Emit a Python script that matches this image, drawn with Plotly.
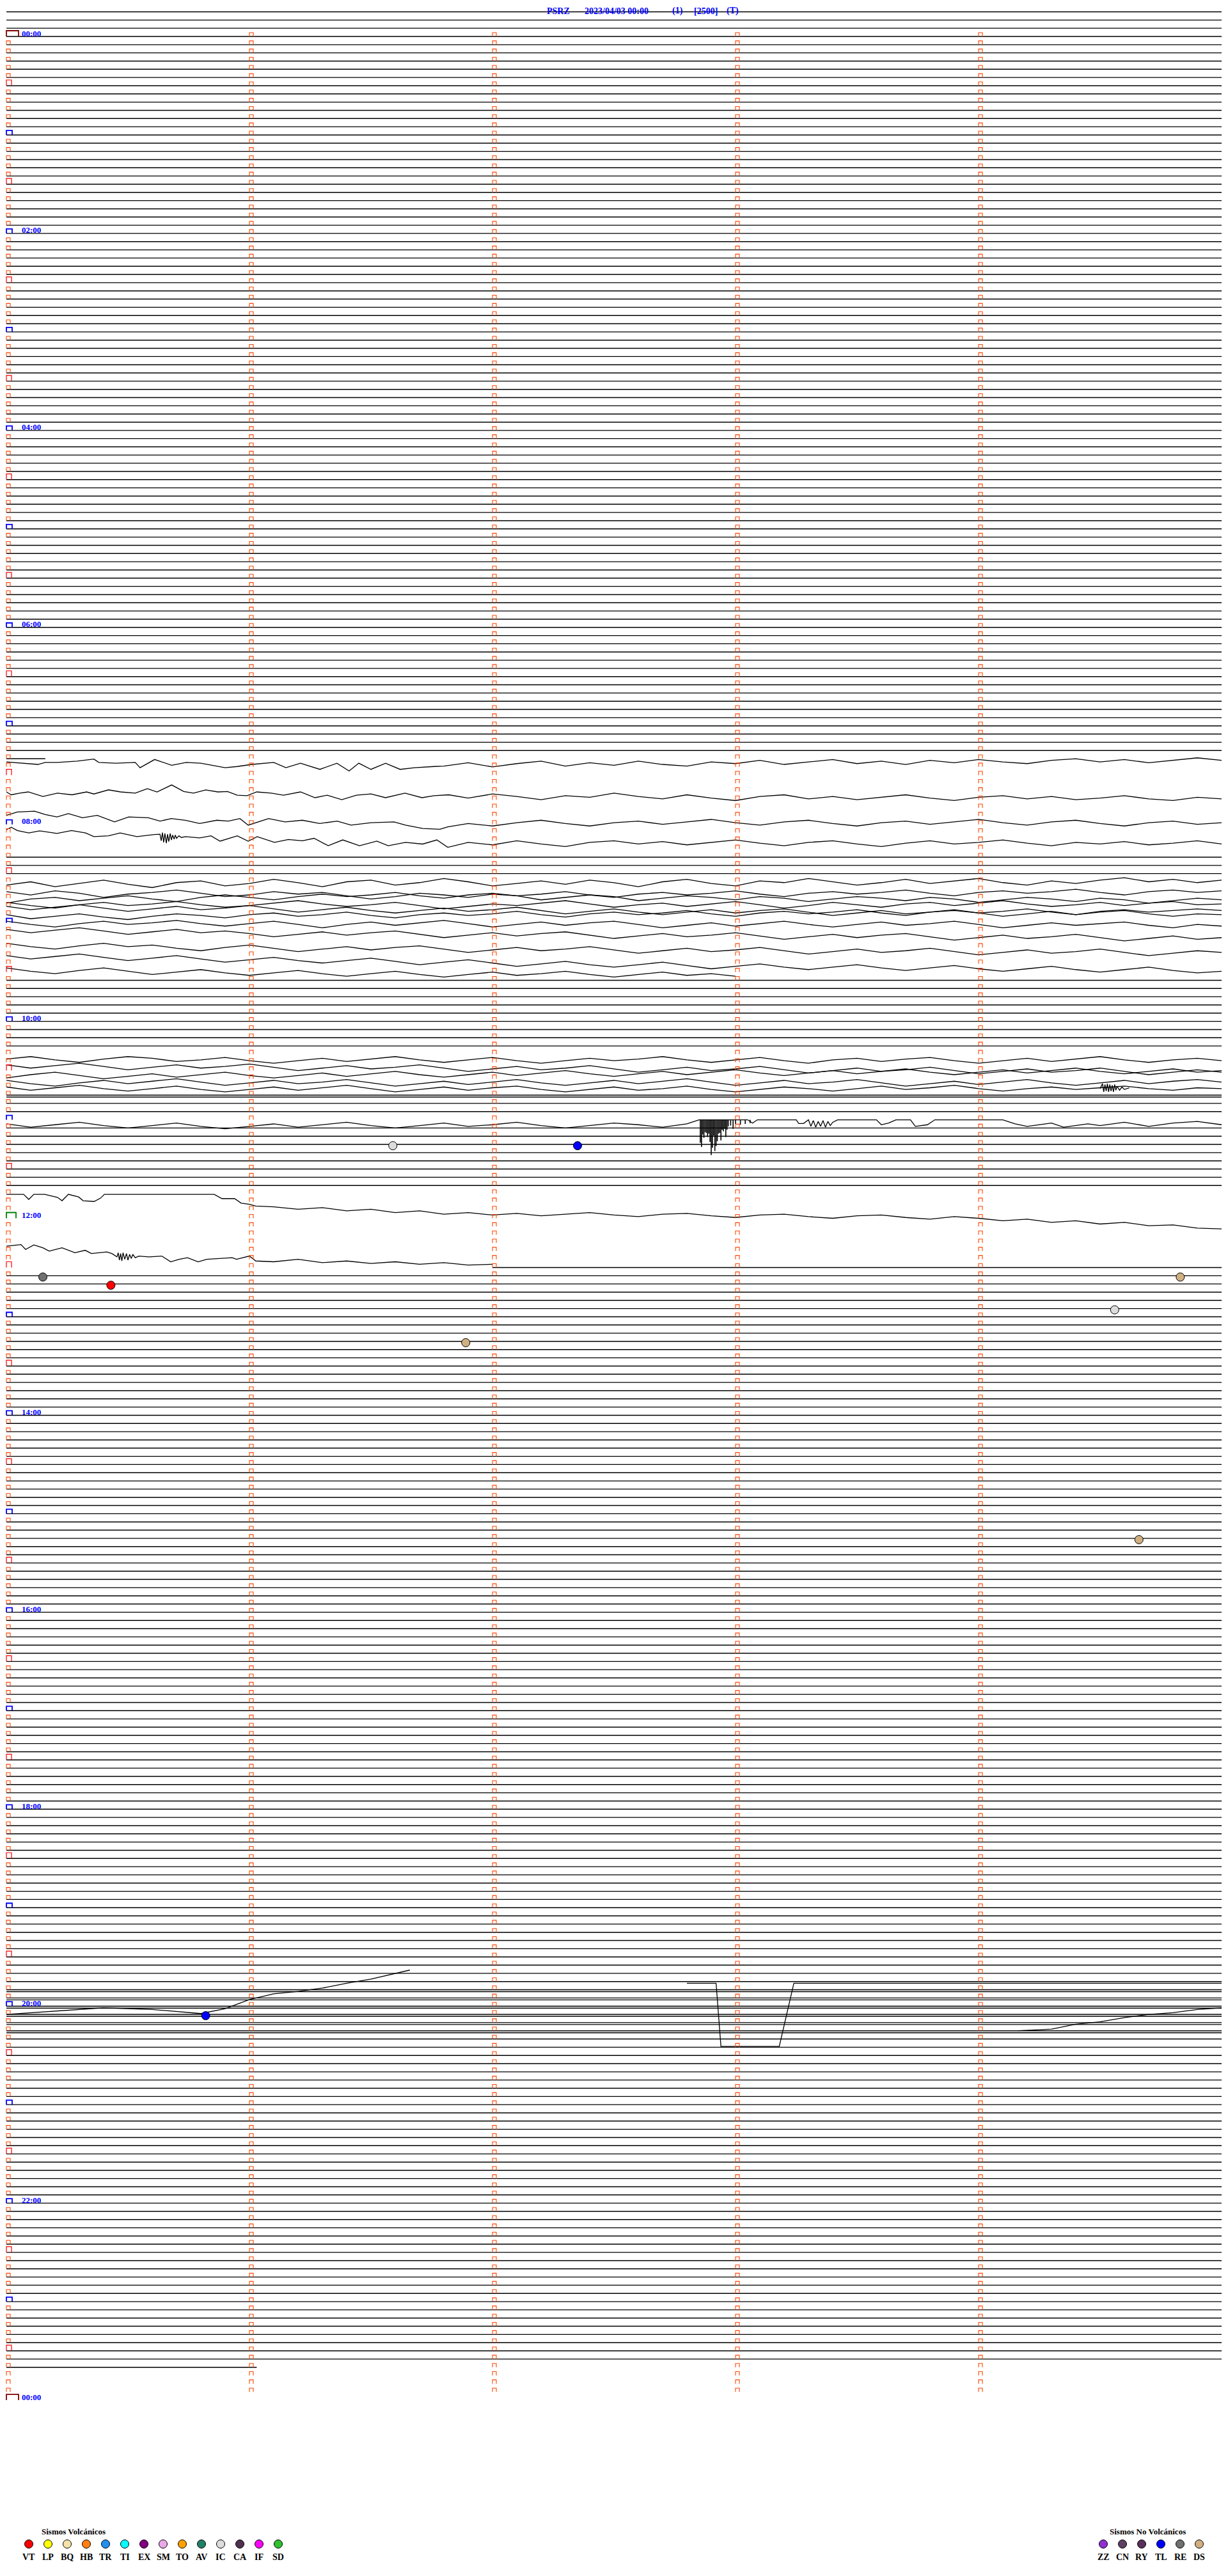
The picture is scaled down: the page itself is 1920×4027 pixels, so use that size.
import plotly.graph_objects as go

# ---------------- data ----------------
TITLE_PARTS = ["PSRZ", "2023/04/03 00:00", "(1)", "[2500]", "(T)"]

MIN_PER_ROW = 5          # each helicorder row = 5 minutes
FIRST_ROW = -4           # rows drawn before 00:00
LAST_ROW = 284           # last row with data
LAST_ROW_END = 1.03      # minute where last row ends
TOTAL_ROWS = 288

HOUR_LABELS = ["00:00", "02:00", "04:00", "06:00", "08:00", "10:00",
               "12:00", "14:00", "16:00", "18:00", "20:00", "22:00", "00:00"]

# rows whose trace is drifting (no flat baseline drawn)
WAVY_ROWS = [88, 89, 90, 91, 92, 93, 94, 95, 96, 97, 98, 99,
             103, 104, 105, 106, 107, 108, 109, 110, 111, 112, 113, 114,
             124, 125, 126, 127, 128, 132,
             141, 142, 143, 144, 145, 146, 147, 148, 149, 150]
# partial flat baselines: (row, start minute, end minute)
PARTIAL_ROWS = [(88, 0.0, 0.16), (150, 2.0, 5.0)]
# rows showing a doubled baseline
DOUBLE_ROWS = [129, 238, 239, 240, 241, 242, 243]

GRID = [0.0, 0.1, 0.2, 0.3, 0.4, 0.5, 0.6, 0.7, 0.8, 0.9,
        1.0, 1.1, 1.2, 1.3, 1.4, 1.5, 1.6, 1.7, 1.8, 1.9,
        2.0, 2.1, 2.2, 2.3, 2.4, 2.5, 2.6, 2.7, 2.8, 2.9,
        3.0, 3.1, 3.2, 3.3, 3.4, 3.5, 3.6, 3.7, 3.8, 3.9,
        4.0, 4.1, 4.2, 4.3, 4.4, 4.5, 4.6, 4.7, 4.8, 4.9, 5.0]
N = None

# ---- 07:20-07:50 traces, (minute, row) ----
t_0720 = [(0, 88.4), (0.05, 88.5), (0.13, 88.7), (0.16, 88.45), (0.21, 88.45), (0.29, 88.3), (0.36, 88.05),
          (0.38, 88.45), (0.45, 88.55), (0.53, 88.45), (0.55, 89.1), (0.61, 88.1), (0.68, 88.8), (0.74, 88.45),
          (0.8, 88.55), (0.9, 89.1), (0.95, 88.95), (1.01, 88.7), (1.1, 88.45), (1.15, 89.1), (1.21, 88.55),
          (1.29, 89.3), (1.36, 88.55), (1.41, 89.5), (1.45, 88.55), (1.5, 89.3), (1.56, 88.55), (1.62, 89.3),
          (1.68, 89.1), (1.76, 88.95), (1.8, 88.9), (1.9, 88.5), (2.0, 89.0), (2.1, 88.6), (2.2, 88.3), (2.3, 88.9),
          (2.4, 88.5), (2.5, 88.8), (2.6, 88.3), (2.7, 88.7), (2.8, 88.9), (2.9, 88.4), (3.0, 88.6), (3.1, 88.2),
          (3.2, 88.7), (3.3, 88.4), (3.4, 88.1), (3.5, 88.6), (3.6, 88.3), (3.7, 88.7), (3.8, 88.2), (3.9, 88.5),
          (4.0, 88.1), (4.1, 88.4), (4.2, 88.6), (4.3, 88.2), (4.4, 88.0), (4.5, 88.4), (4.6, 88.1), (4.7, 88.5),
          (4.8, 88.2), (4.9, 87.9), (5.0, 88.2)]
t_0735 = [(0, 92.05), (0.02, 92.4), (0.055, 92.2), (0.09, 92.05), (0.15, 92.6), (0.21, 92.2), (0.27, 92.4),
          (0.33, 92.05), (0.36, 92.3), (0.42, 91.8), (0.47, 92.05), (0.53, 92.2), (0.58, 91.65), (0.62, 92.05),
          (0.68, 91.2), (0.73, 92.0), (0.77, 92.2), (0.82, 91.8), (0.87, 92.05), (0.91, 92.0), (0.95, 92.45),
          (0.99, 92.5), (1.03, 92.05), (1.09, 92.2), (1.14, 92.45), (1.21, 92.05), (1.27, 92.75), (1.32, 92.45),
          (1.38, 93.0), (1.44, 92.45), (1.5, 92.3), (1.56, 92.75), (1.64, 92.2), (1.71, 92.75), (1.76, 92.5),
          (1.82, 92.4), (1.9, 92.8), (2.0, 92.3), (2.1, 92.6), (2.2, 93.0), (2.3, 92.5), (2.4, 92.7), (2.5, 92.2),
          (2.6, 92.6), (2.7, 92.9), (2.8, 92.4), (2.9, 92.8), (3.0, 93.1), (3.1, 92.6), (3.2, 92.4), (3.3, 92.9),
          (3.4, 92.6), (3.5, 93.0), (3.6, 92.7), (3.7, 92.4), (3.8, 92.8), (3.9, 93.1), (4.0, 92.7), (4.1, 92.5),
          (4.2, 92.9), (4.3, 92.6), (4.4, 93.0), (4.5, 92.8), (4.6, 92.5), (4.7, 92.9), (4.8, 93.1), (4.9, 92.7),
          (5.0, 92.9)]
t_0750 = [(0, 94.9), (0.045, 94.5), (0.116, 94.4), (0.16, 94.8), (0.208, 95.1), (0.255, 94.7), (0.313, 95.2),
          (0.374, 94.9), (0.445, 95.7), (0.503, 95.1), (0.584, 95.2), (0.632, 95.6), (0.679, 95.3), (0.737, 95.5),
          (0.795, 95.9), (0.866, 95.5), (0.913, 95.6), (0.961, 95.3), (0.995, 96.1), (1.079, 95.3), (1.147, 95.7),
          (1.218, 95.5), (1.289, 95.9), (1.361, 95.6), (1.418, 96.1), (1.5, 95.8), (1.595, 95.7), (1.642, 96.1),
          (1.713, 96.5), (1.784, 96.6), (1.816, 96.3), (1.9, 95.9), (2.0, 96.2), (2.1, 95.8), (2.2, 95.5),
          (2.3, 95.9), (2.4, 96.2), (2.5, 95.8), (2.6, 95.6), (2.7, 96.0), (2.8, 95.7), (2.9, 95.4), (3.0, 95.8),
          (3.1, 96.1), (3.2, 95.7), (3.3, 95.5), (3.4, 95.9), (3.5, 96.2), (3.6, 95.8), (3.7, 95.6), (3.8, 96.0),
          (3.9, 95.7), (4.0, 95.4), (4.1, 95.8), (4.2, 96.1), (4.3, 95.7), (4.4, 95.5), (4.5, 95.9), (4.6, 96.2),
          (4.7, 95.8), (4.8, 95.6), (4.9, 96.0), (5.0, 95.8)]
t_0805 = [(0, 96.65), (0.02, 96.35), (0.045, 96.75), (0.092, 97.05), (0.137, 96.8), (0.208, 97.1), (0.268, 96.75),
          (0.326, 97.05), (0.36, 97.5), (0.42, 97.4), (0.468, 97.05), (0.537, 97.5), (0.608, 97.25),
          (0.632, 97.2), (0.637, 98.0), (0.642, 97.0), (0.647, 98.2), (0.652, 97.1), (0.658, 98.3), (0.663, 97.2),
          (0.668, 98.1), (0.674, 97.1), (0.679, 97.9), (0.684, 97.3), (0.69, 97.8), (0.695, 97.3), (0.7, 97.7),
          (0.71, 97.4), (0.72, 97.6), (0.737, 97.5), (0.795, 97.65), (0.842, 97.4), (0.879, 98.05), (0.95, 97.4),
          (0.995, 98.05), (1.032, 97.5), (1.103, 98.2), (1.16, 97.85), (1.218, 98.0), (1.266, 97.7),
          (1.324, 98.6), (1.384, 97.9), (1.453, 98.6), (1.524, 98.05), (1.571, 98.6), (1.642, 98.2),
          (1.713, 98.4), (1.771, 97.9), (1.816, 98.8), (1.9, 98.2), (2.0, 98.5), (2.1, 98.0), (2.2, 98.4),
          (2.3, 98.7), (2.4, 98.2), (2.5, 98.0), (2.6, 98.4), (2.7, 98.1), (2.8, 98.5), (2.9, 98.2), (3.0, 97.9),
          (3.1, 98.3), (3.2, 98.6), (3.3, 98.2), (3.4, 98.0), (3.5, 98.4), (3.6, 98.7), (3.7, 98.3), (3.8, 98.0),
          (3.9, 98.4), (4.0, 98.2), (4.1, 97.9), (4.2, 98.3), (4.3, 98.6), (4.4, 98.2), (4.5, 98.4), (4.6, 98.1),
          (4.7, 98.5), (4.8, 98.3), (4.9, 98.0), (5.0, 98.4)]

# ---- 08:30-09:00 tangle, values on GRID (row) ----
g1 = [103.4, 103.0, 103.6, 103.2, 102.8, 103.3, 103.7, 103.1, 102.9, 103.5, 103.2, 102.7, 103.1, 103.6, 103.0, 102.8, 103.4,
      103.1, 102.6, 103.0, 103.5, 103.2, 102.9, 103.3, 102.8, 103.1, 103.6, 103.0, 102.7, 103.2, 103.5, 102.9, 103.1, 102.6,
      103.0, 103.4, 103.1, 102.7, 103.2, 102.9, 102.6, 103.1, 103.4, 102.9, 103.2, 102.8, 102.5, 103.0, 102.7, 103.1, 102.8]
g2 = [104.2, 104.6, 104.1, 104.4, 104.9, 104.5, 104.3, 104.0, 104.4, 104.8, 104.6, 104.2, 104.5, 104.3, 104.7, 105.1, 104.8,
      104.4, 104.6, 104.9, 104.5, 104.7, 105.2, 104.9, 104.6, 104.8, 105.3, 105.0, 104.7, 104.9, 105.2, 104.8, 105.0, 105.4,
      105.1, 104.8, 105.0, 105.3, 104.9, 105.1, 105.5, 105.2, 104.9, 105.1, 105.4, 105.0, 105.2, 105.6, 105.3, 105.0, 105.2]
g3 = [105.6, 105.1, 104.9, 105.3, 105.0, 104.7, 105.1, 105.4, 104.9, 104.6, 104.9, 105.2, 104.8, 104.5, 104.8, 104.6, 104.3,
      104.7, 105.0, 104.6, 104.4, 104.7, 104.5, 104.2, 104.6, 104.9, 104.5, 104.3, 104.6, 104.4, 104.1, 104.5, 104.8, 104.4,
      104.2, 104.5, 104.3, 104.0, 104.4, 104.7, 104.3, 104.1, 104.4, 104.2, 103.9, 104.3, 104.6, 104.2, 104.0, 104.3, 104.1]
g4 = [105.5, 105.9, 106.2, 105.8, 105.5, 105.9, 105.7, 105.4, 105.8, 106.1, 105.9, 105.6, 105.3, 105.7, 106.0, 105.8, 105.5,
      105.9, 106.3, 106.0, 105.7, 105.9, 105.6, 105.3, 105.7, 106.1, 105.8, 105.6, 106.0, 105.7, 105.4, 105.8, 106.2, 105.9,
      105.5, 105.8, 106.1, 105.7, 105.5, 105.9, 105.6, 105.3, 105.7, 106.0, 105.8, 105.5, 105.9, 105.6, 105.4, 105.8, 105.7]
g5 = [106.0, 106.4, 106.1, 105.8, 106.2, 106.6, 106.3, 106.0, 106.4, 106.2, 105.9, 106.3, 106.7, 106.4, 106.1, 106.5, 106.8,
      106.5, 106.2, 106.6, 106.4, 106.1, 106.5, 106.9, 106.6, 106.3, 106.7, 107.0, 106.7, 106.4, 106.8, 106.5, 106.3, 106.7,
      107.1, 106.8, 106.5, 106.9, 106.7, 106.4, 106.8, 107.2, 106.9, 106.6, 107.0, 106.7, 106.5, 106.9, 107.2, 106.9, 107.0]
g6 = [107.0, 107.5, 107.2, 106.9, 107.3, 107.6, 107.2, 106.9, 107.1, 107.4, 107.0, 106.8, 107.2, 107.0, 106.7, 107.1, 107.4,
      107.0, 106.8, 107.1, 106.9, 106.6, 107.0, 107.3, 106.9, 106.7, 107.0, 106.8, 106.5, 106.9, 107.2, 106.8, 106.6, 106.9,
      106.7, 106.4, 106.8, 107.1, 106.7, 106.5, 106.8, 106.6, 106.3, 106.7, 107.0, 106.6, 106.4, 106.7, 106.5, 106.3, 106.5]
g7 = [107.8, 108.2, 108.5, 108.1, 107.8, 108.2, 108.0, 107.7, 108.1, 108.4, 108.1, 107.8, 108.2, 108.6, 108.2, 107.9, 108.3,
      108.0, 107.7, 108.1, 108.5, 108.2, 107.9, 108.3, 108.0, 107.8, 108.2, 108.6, 108.3, 108.0, 108.4, 108.1, 107.8, 108.2,
      108.5, 108.2, 107.9, 108.3, 108.1, 107.8, 108.2, 108.6, 108.3, 108.0, 108.3, 108.1, 107.9, 108.3, 108.6, 108.2, 108.4]
g8 = [108.8, 109.2, 108.9, 108.6, 109.0, 109.4, 109.1, 108.8, 109.2, 109.0, 109.3, 109.7, 109.4, 109.1, 109.5, 109.2, 109.0,
      109.4, 109.8, 109.5, 109.2, 109.6, 109.3, 109.1, 109.5, 109.9, 109.6, 109.3, 109.7, 109.5, 109.2, 109.6, 110.0, 109.7,
      109.4, 109.8, 109.5, 109.3, 109.7, 110.1, 109.8, 109.5, 109.9, 109.7, 109.4, 109.8, 110.2, 109.9, 109.6, 110.0, 109.8]
g9 = [110.5, 110.9, 111.2, 110.8, 110.5, 110.9, 110.7, 111.1, 111.4, 111.0, 110.7, 111.1, 111.5, 111.2, 110.9, 111.3, 111.0,
      110.8, 111.2, 111.6, 111.3, 111.0, 111.4, 111.2, 110.9, 111.3, 111.7, 111.4, 111.1, 111.5, 111.3, 111.0, 111.4, 111.8,
      111.5, 111.2, 111.6, 111.4, 111.1, 111.5, 111.9, 111.6, 111.3, 111.7, 111.5, 111.2, 111.6, 112.0, 111.7, 111.4, 111.6]
g10 = [112.0, 112.4, 112.1, 111.8, 112.2, 112.6, 112.3, 112.0, 112.4, 112.8, 112.5, 112.2, 112.6, 112.9, 112.6, 112.3, 112.7,
       113.1, 112.8, 112.5, 112.9, 113.3, 113.0, 112.7, 113.1, 113.4, 113.1, 112.8, 113.2, 113.6, 113.3, 113.0, 113.4, 113.7,
       113.4, 113.1, 113.5, 113.8, 113.5, 113.2, 113.6, 113.9, 113.6, 113.3, 113.7, 114.0, 113.7, 113.4, 113.8, 114.1, 113.9]
g11 = [113.5, 113.9, 114.2, 113.8, 113.5, 113.9, 114.3, 114.0, 113.7, 114.1, 114.4, 114.1, 113.8, 114.2, 114.5, 114.2, 113.9,
       114.3, 114.6, 114.3, 114.0, 114.4, 114.2, 113.9, 114.3, 114.6, 114.3, 114.0, 114.4, 114.2, 114.5, N, N, N,
       N, N, N, N, N, N, N, N, N, N, N, N, N, N, N, N, N]

# ---- 10:20-10:45 tangle, values on GRID ----
h1 = [124.6, 124.3, 124.7, 125.0, 124.6, 124.3, 124.5, 124.9, 124.7, 124.4, 124.8, 125.1, 124.8, 124.5, 124.9, 124.6, 124.3,
      124.7, 125.0, 124.7, 124.4, 124.8, 125.1, 124.8, 124.5, 124.8, 124.6, 124.3, 124.7, 125.0, 124.7, 124.4, 124.8, 125.1,
      124.7, 124.5, 124.9, 124.6, 124.4, 124.8, 125.1, 124.8, 124.5, 124.9, 124.6, 124.3, 124.7, 125.0, 124.7, 124.5, 124.8]
h2 = [125.3, 125.7, 125.4, 125.1, 125.5, 125.9, 125.6, 125.3, 125.7, 125.5, 125.2, 125.6, 126.0, 125.7, 125.4, 125.8, 125.6,
      125.3, 125.7, 126.1, 125.8, 125.5, 125.9, 125.7, 125.4, 125.8, 126.2, 125.9, 125.6, 126.0, 125.8, 125.5, 125.9, 126.3,
      126.0, 125.7, 126.1, 125.9, 125.6, 126.0, 126.4, 126.1, 125.8, 126.2, 126.0, 125.7, 126.1, 126.5, 126.2, 125.9, 126.2]
h3 = [126.9, 126.5, 126.2, 126.6, 127.0, 126.7, 126.4, 126.8, 126.5, 126.2, 126.6, 126.9, 126.6, 126.3, 126.7, 126.4, 126.1,
      126.5, 126.8, 126.5, 126.2, 126.6, 126.3, 126.0, 126.4, 126.7, 126.4, 126.1, 126.5, 126.2, 125.9, 126.3, 126.6, 126.3,
      126.0, 126.4, 126.1, 125.8, 126.2, 126.5, 126.2, 125.9, 126.3, 126.0, 125.7, 126.1, 126.4, 126.1, 125.8, 126.2, 126.0]
h4 = [127.2, 127.6, 127.9, 127.5, 127.2, 127.6, 127.3, 127.0, 127.4, 127.8, 127.5, 127.2, 127.6, 127.4, 127.1, 127.5, 127.9,
      127.6, 127.3, 127.7, 127.4, 127.1, 127.5, 127.8, 127.5, 127.2, 127.6, 127.3, 127.0, 127.4, 127.8, 127.5, 127.2, 127.6,
      127.4, 127.1, 127.5, 127.9, 127.6, 127.3, 127.7, 127.4, 127.1, 127.5, 127.8, 127.5, 127.2, 127.6, 127.3, 127.1, 127.4]
h5 = [128.0, 128.4, 128.1, 127.8, 128.2, 128.5, 128.2, 127.9, 128.3, 128.6, 128.3, 128.0, 128.4, 128.1, 127.8, 128.2, 128.6,
      128.3, 128.0, 128.4, 128.1, 127.9, 128.3, 128.6, 128.3, 128.0, 128.4, 128.2, 127.9, 128.3, 128.6, 128.3, 128.0, 128.2,
      128.5, 128.2, 127.9, 128.3, 128.1, 127.8, 128.2, 128.5, 128.2, 128.0, 128.3, 128.1, 127.9, 128.2, 128.4, 128.1, 128.2]
burst_1040 = [(4.50, 128.2), (4.51, 127.6), (4.515, 128.6), (4.52, 127.7), (4.525, 128.5), (4.53, 127.6), (4.535, 128.6),
              (4.54, 127.7), (4.545, 128.5), (4.55, 127.8), (4.555, 128.6), (4.56, 127.7), (4.565, 128.4), (4.57, 127.9),
              (4.58, 128.4), (4.59, 128.0), (4.60, 128.3), (4.62, 128.1)]

# ---- 11:00 trace ----
t_1100 = [(0.0, 132.5), (0.1, 132.9), (0.2, 132.6), (0.3, 132.3), (0.4, 132.7), (0.5, 133.0), (0.6, 132.7), (0.7, 132.4),
          (0.8, 132.8), (0.9, 133.1), (1.0, 132.8), (1.1, 132.5), (1.2, 132.9), (1.3, 132.6), (1.4, 132.3), (1.5, 132.7),
          (1.6, 133.0), (1.7, 132.7), (1.8, 132.4), (1.9, 132.8), (2.0, 132.6), (2.1, 132.3), (2.2, 132.7), (2.3, 133.0),
          (2.4, 132.7), (2.5, 132.4), (2.6, 132.6), (2.7, 132.9), (2.8, 132.5), (2.85, 132.0), (3.05, 132.0),
          (3.07, 132.4), (3.09, 132.0), (3.25, 132.0), (3.26, 132.45), (3.28, 132.45), (3.3, 132.0), (3.31, 132.8),
          (3.32, 132.1), (3.33, 132.9), (3.34, 132.2), (3.35, 132.8), (3.36, 132.1), (3.37, 132.9), (3.38, 132.2),
          (3.39, 132.7), (3.4, 132.3), (3.42, 132.0), (3.58, 132.0), (3.6, 132.6), (3.63, 132.4), (3.66, 132.0),
          (3.72, 132.0), (3.74, 132.8), (3.79, 132.6), (3.82, 132.0), (4.1, 132.0), (4.15, 132.5), (4.2, 132.8),
          (4.3, 132.4), (4.35, 132.9), (4.45, 132.5), (4.5, 132.7), (4.6, 132.3), (4.7, 132.8), (4.8, 132.4),
          (4.9, 132.2), (5.0, 132.6)]
spike_min = [2.855, 2.86, 2.865, 2.87, 2.875, 2.88, 2.885, 2.89, 2.895, 2.90, 2.905, 2.91, 2.915, 2.92, 2.925,
             2.93, 2.935, 2.94, 2.945, 2.95, 2.955, 2.96, 2.965, 2.97, 2.98, 2.99, 3.0, 3.02, 3.04, 3.06]
spike_row = [134.8, 135.3, 133.8, 134.2, 133.5, 133.6, 134.1, 133.7, 134.7, 136.3, 135.4, 133.9, 135.8, 135.2, 134.6,
             133.7, 133.6, 134.5, 133.2, 133.4, 133.1, 134.1, 133.2, 132.8, 132.7, 133.1, 132.5, 132.6, 132.5, 132.4]

# ---- 11:45 and 12:15 traces ----
t_1145 = [(0, 141.08), (0.071, 141.08), (0.092, 141.7), (0.113, 141.08), (0.158, 141.08), (0.192, 141.3), (0.21, 141.45),
          (0.229, 141.86), (0.255, 141.08), (0.297, 141.4), (0.316, 141.86), (0.361, 141.95), (0.387, 141.55),
          (0.403, 141.08), (0.855, 141.08), (0.887, 141.6), (0.939, 141.6), (0.966, 142.15), (1.0, 142.3),
          (1.026, 142.5), (1.1, 142.6), (1.2, 142.9), (1.3, 142.7), (1.4, 143.1), (1.5, 142.9), (1.6, 143.3),
          (1.7, 143.1), (1.8, 143.5), (1.9, 143.3), (2.0, 143.6), (2.1, 143.4), (2.2, 143.7), (2.3, 143.5),
          (2.4, 143.3), (2.5, 143.6), (2.6, 143.8), (2.7, 143.5), (2.8, 143.4), (2.9, 143.7), (3.0, 143.9),
          (3.1, 143.6), (3.2, 143.5), (3.3, 143.8), (3.4, 144.0), (3.5, 143.7), (3.6, 143.6), (3.7, 143.9),
          (3.8, 144.1), (3.9, 143.8), (4.0, 144.0), (4.1, 144.3), (4.2, 144.1), (4.3, 144.5), (4.4, 144.3),
          (4.5, 144.7), (4.6, 144.5), (4.7, 144.9), (4.8, 144.8), (4.9, 145.2), (5.0, 145.3)]
t_1215 = [(0, 147.4), (0.06, 147.2), (0.079, 147.8), (0.113, 147.25), (0.15, 147.6), (0.176, 148.0), (0.229, 147.6),
          (0.263, 148.0), (0.282, 148.2), (0.324, 147.9), (0.35, 148.3), (0.413, 148.1), (0.434, 148.3),
          (0.455, 148.7), (0.46, 148.2), (0.465, 149.1), (0.47, 148.3), (0.475, 149.2), (0.48, 148.2), (0.487, 149.0),
          (0.494, 148.3), (0.5, 149.1), (0.507, 148.4), (0.514, 148.9), (0.52, 148.4), (0.53, 148.8), (0.545, 148.6),
          (0.587, 148.7), (0.639, 148.6), (0.676, 149.3), (0.711, 149.0), (0.745, 148.8), (0.789, 149.3),
          (0.824, 149.0), (0.868, 148.9), (0.929, 148.8), (0.947, 149.0), (1.0, 148.6), (1.026, 149.2), (1.1, 149.3),
          (1.2, 149.0), (1.3, 149.4), (1.4, 149.2), (1.5, 149.5), (1.6, 149.3), (1.7, 149.6), (1.8, 149.4),
          (1.9, 149.7), (2.0, 149.6)]

# ---- 19:40-20:20 drift and step (minute, row) ----
drift_left = [(0.0, 241.0), (0.2, 240.6), (0.4, 240.2), (0.6, 240.4), (0.8, 240.9), (0.9, 240.3), (1.0, 239.2),
              (1.1, 238.5), (1.2, 238.2), (1.3, 237.8), (1.4, 237.2), (1.5, 236.7), (1.6, 236.0), (1.66, 235.6)]
step = [(2.8, 237.2), (2.92, 237.2), (2.94, 244.9), (3.18, 244.9), (3.24, 237.2), (5.0, 237.2)]
drift_right = [(4.16, 243.0), (4.3, 242.8), (4.4, 242.2), (4.5, 241.9), (4.6, 241.4), (4.7, 241.0), (4.8, 240.8),
               (4.9, 240.4), (5.0, 240.2)]

PAIR_TRACES = [t_0720, t_0735, t_0750, t_0805, burst_1040, t_1100, t_1145, t_1215, drift_left, step, drift_right]
GRID_TRACES = [g1, g2, g3, g4, g5, g6, g7, g8, g9, g10, g11, h1, h2, h3, h4, h5]

# seismic events: row (5-min line), minute within row, type
EVENT_ROW = [135, 135, 151, 152, 151, 155, 159, 183, 241]
EVENT_MIN = [1.59, 2.35, 0.15, 0.43, 4.83, 4.56, 1.89, 4.66, 0.82]
EVENT_TYPE = ["IC", "TL", "RE", "VT", "DS", "IC", "DS", "DS", "TL"]

VOLC_TYPES = ["VT", "LP", "BQ", "HB", "TR", "TI", "EX", "SM", "TO", "AV", "IC", "CA", "IF", "SD"]
VOLC_COLORS = ["#FF0000", "#FFFF00", "#F3E3A8", "#FF8010", "#2090F0", "#00FFFF", "#800080",
               "#EAA8E8", "#FFA000", "#208068", "#DCDCDC", "#503050", "#FF00FF", "#30C030"]
NOVOLC_TYPES = ["ZZ", "CN", "RY", "TL", "RE", "DS"]
NOVOLC_COLORS = ["#9030D0", "#604060", "#583058", "#0000FF", "#707070", "#D0B080"]

# ---------------- figure geometry (screen pixels) ----------------
OFF = 8                     # default page margin of the html body
W, H = 1920 - OFF, 4027 - OFF
X0_PX, PX_PER_MIN = 10, 380
Y0_PX, PX_PER_ROW = 57, 12.83


def mx(px):
    return px / PX_PER_MIN


def ry(px):
    return px / PX_PER_ROW


fig = go.Figure()
LINE = dict(color="black", width=1.3)

# flat baselines
wavy = set(WAVY_ROWS)
fx, fy = [], []
for r in range(FIRST_ROW, LAST_ROW + 1):
    if r in wavy:
        continue
    end = LAST_ROW_END if r == LAST_ROW else MIN_PER_ROW
    fx += [0, end, None]
    fy += [r, r, None]
for r in DOUBLE_ROWS:
    fx += [0, MIN_PER_ROW, None]
    fy += [r + ry(3), r + ry(3), None]
for r, a, b in PARTIAL_ROWS:
    fx += [a, b, None]
    fy += [r, r, None]
fig.add_trace(go.Scatter(x=fx, y=fy, mode="lines", line=dict(color="black", width=1.4),
                         hoverinfo="skip", showlegend=False))

for tr in PAIR_TRACES:
    fig.add_trace(go.Scatter(x=[p[0] for p in tr], y=[p[1] for p in tr], mode="lines", line=LINE,
                             hoverinfo="skip", showlegend=False))
for g in GRID_TRACES:
    fig.add_trace(go.Scatter(x=GRID, y=g, mode="lines", line=LINE, connectgaps=False,
                             hoverinfo="skip", showlegend=False))

# burst of spikes on the 11:00 trace
sx, sy = [], []
for m, d in zip(spike_min, spike_row):
    sx += [m, m, None]
    sy += [132.0, d, None]
fig.add_trace(go.Scatter(x=sx, y=sy, mode="lines", line=dict(color="black", width=1.6),
                         hoverinfo="skip", showlegend=False))


# minute tick markers
def bracket_path(xs, ys, wpx, hpx):
    px_, py_ = [], []
    for x, y in zip(xs, ys):
        px_ += [x, x, x + mx(wpx), x + mx(wpx), None]
        py_ += [y, y - ry(hpx), y - ry(hpx), y, None]
    return px_, py_


small_x, small_y = [], []
half_x, half_y, hour_x, hour_y, day_x, day_y, noon_x, noon_y = [], [], [], [], [], [], [], []
for r in range(0, TOTAL_ROWS):
    for m in range(0, MIN_PER_ROW):
        if m == 0:
            if r == 0:
                day_x.append(0); day_y.append(r); continue
            if r == 144:
                noon_x.append(0); noon_y.append(r); continue
            if r % 12 == 0:
                hour_x.append(0); hour_y.append(r); continue
            if r % 12 == 6:
                half_x.append(0); half_y.append(r); continue
        small_x.append(m); small_y.append(r)
day_x.append(0); day_y.append(TOTAL_ROWS)

for xs, ys, wpx, hpx, col, lw in [
        (small_x, small_y, 6, 6, "#FF4500", 1.1),
        (half_x, half_y, 8, 9, "#FF0000", 1.2),
        (hour_x, hour_y, 9, 7, "#0000FF", 1.8),
        (noon_x, noon_y, 15, 9, "#008000", 1.8),
        (day_x, day_y, 19, 9, "#800000", 1.8)]:
    bx, by = bracket_path(xs, ys, wpx, hpx)
    fig.add_trace(go.Scatter(x=bx, y=by, mode="lines", line=dict(color=col, width=lw),
                             hoverinfo="skip", showlegend=False))

for i, lab in enumerate(HOUR_LABELS):
    row = i * 24
    fig.add_annotation(x=mx(22), y=row - ry(5), text="<b>" + lab + "</b>", showarrow=False,
                       xanchor="left", yanchor="middle",
                       font=dict(family="Liberation Serif", size=13, color="#0000FF"))

color_of = dict(zip(VOLC_TYPES + NOVOLC_TYPES, VOLC_COLORS + NOVOLC_COLORS))
fig.add_trace(go.Scatter(x=EVENT_MIN, y=[r + ry(2) for r in EVENT_ROW], mode="markers",
                         marker=dict(size=13, color=[color_of[t] for t in EVENT_TYPE],
                                     line=dict(color="black", width=1)),
                         hoverinfo="skip", showlegend=False))

# legend (overlay axes in screen pixels)
lx = [45 + 30 * i for i in range(len(VOLC_TYPES))]
rx = [1725 + 30 * i for i in range(len(NOVOLC_TYPES))]
fig.add_trace(go.Scatter(x=lx + rx, y=[3977] * (len(lx) + len(rx)), mode="markers",
                         marker=dict(size=13, color=VOLC_COLORS + NOVOLC_COLORS,
                                     line=dict(color="black", width=1)),
                         xaxis="x2", yaxis="y2", hoverinfo="skip", showlegend=False))
for x, t in zip(lx + rx, VOLC_TYPES + NOVOLC_TYPES):
    fig.add_annotation(x=x, y=3997, xref="x2", yref="y2", text="<b>" + t + "</b>", showarrow=False,
                       xanchor="center", yanchor="middle",
                       font=dict(family="Liberation Serif", size=14, color="black"))
fig.add_annotation(x=63, y=3957, xref="x2", yref="y2", text="<b>Sismos Volcánicos</b>", showarrow=False,
                   xanchor="left", yanchor="middle", font=dict(family="Liberation Serif", size=13, color="black"))
fig.add_annotation(x=1733, y=3957, xref="x2", yref="y2", text="<b>Sismos No Volcánicos</b>", showarrow=False,
                   xanchor="left", yanchor="middle", font=dict(family="Liberation Serif", size=13, color="black"))

for x, t in zip([853, 912, 1049, 1083, 1134], TITLE_PARTS):
    fig.add_annotation(x=x, y=17, xref="x2", yref="y2", text="<b>" + t + "</b>", showarrow=False,
                       xanchor="left", yanchor="middle",
                       font=dict(family="Liberation Serif", size=14, color="#0000FF"))

fig.update_layout(
    width=W, height=H, margin=dict(l=0, r=0, t=0, b=0),
    paper_bgcolor="white", plot_bgcolor="white", showlegend=False,
    xaxis=dict(range=[(OFF - X0_PX) / PX_PER_MIN, (W + OFF - X0_PX) / PX_PER_MIN], visible=False, fixedrange=True),
    yaxis=dict(range=[(H + OFF - Y0_PX) / PX_PER_ROW, (OFF - Y0_PX) / PX_PER_ROW], visible=False, fixedrange=True),
    xaxis2=dict(range=[OFF, W + OFF], visible=False, overlaying="x", fixedrange=True),
    yaxis2=dict(range=[H + OFF, OFF], visible=False, overlaying="y", fixedrange=True),
)
fig.write_html("out.html")
